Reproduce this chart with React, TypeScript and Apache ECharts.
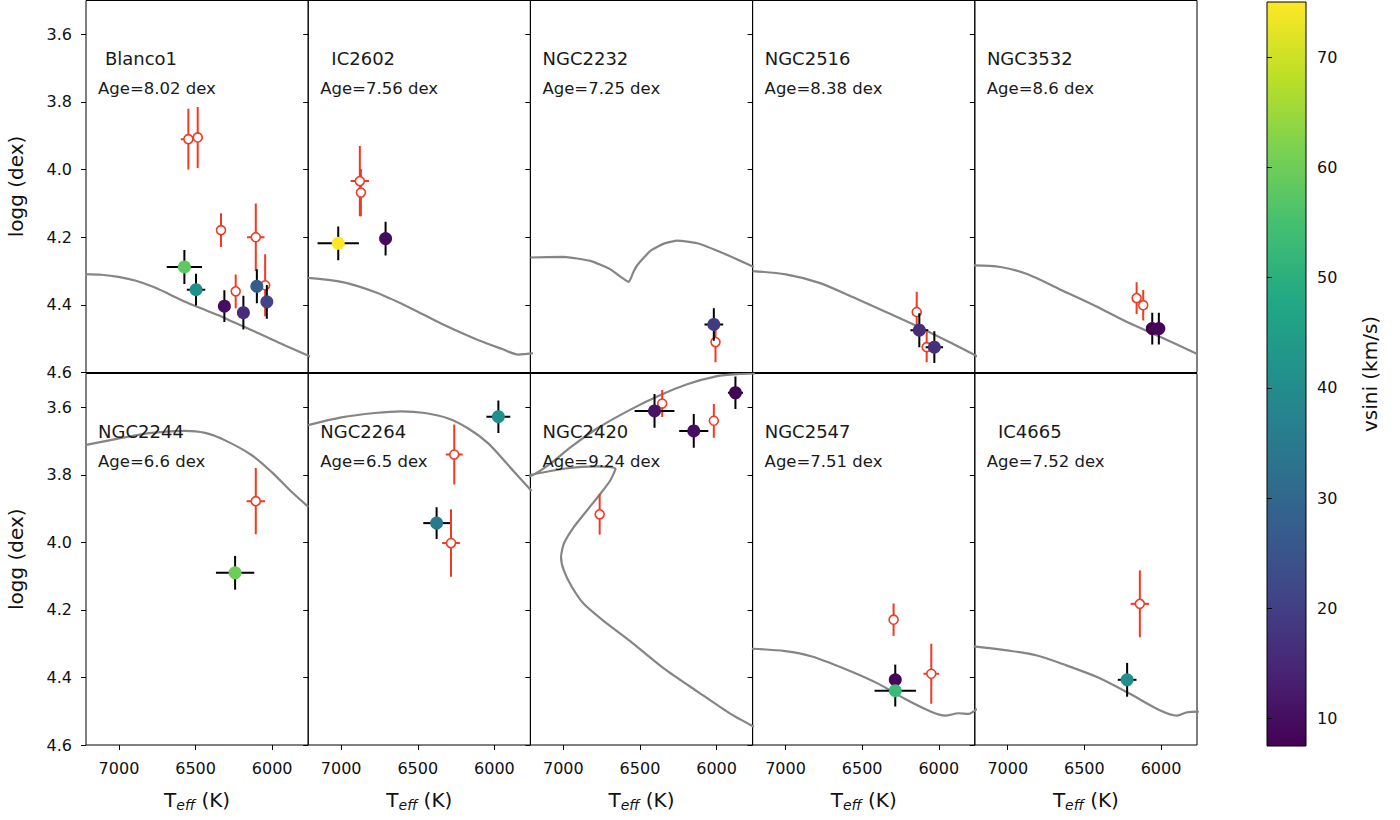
import React, { useEffect, useRef } from "react";
import * as echarts from "echarts";

// Axis limits shared by every panel
const TEFF_LEFT = 7215;
const TEFF_RIGHT = 5765;
const LOGG_TOP = 3.5;
const LOGG_BOTTOM = 4.6;
const TEFF_TICKS = [6000, 6500, 7000];
const LOGG_TICKS = [3.6, 3.8, 4.0, 4.2, 4.4, 4.6];
const VSINI_MIN = 7.5;
const VSINI_MAX = 75;
const VSINI_TICKS = [10, 20, 30, 40, 50, 60, 70];

const clusterNames = ["Blanco1", "IC2602", "NGC2232", "NGC2516", "NGC3532", "NGC2244", "NGC2264", "NGC2420", "NGC2547", "IC4665"];
const clusterAges = ["8.02", "7.56", "7.25", "8.38", "8.6", "6.6", "6.5", "9.24", "7.51", "7.52"];

// Members: [Teff, logg, vsini, Teff error, logg error]
// Outliers: [Teff, logg, Teff error, logg error]
// Isochrones: [Teff, logg]
const blanco1Members = [
  [6573, 4.288, 58, 115, 0.05],
  [6497, 4.355, 41, 60, 0.047],
  [6312, 4.404, 10, 30, 0.047],
  [6188, 4.423, 16, 30, 0.05],
  [6100, 4.345, 27, 30, 0.05],
  [6035, 4.391, 21, 30, 0.05],
];
const blanco1Outliers = [
  [6547, 3.91, 49, 0.09],
  [6486, 3.905, 35, 0.09],
  [6334, 4.179, 20, 0.05],
  [6107, 4.2, 57, 0.1],
  [6238, 4.36, 20, 0.05],
  [6046, 4.342, 20, 0.092],
];
const blanco1Iso = [[7221, 4.309], [7113, 4.311], [7004, 4.317], [6895, 4.328], [6786, 4.345], [6678, 4.367], [6569, 4.391], [6460, 4.411], [6351, 4.431], [6242, 4.453], [6133, 4.475], [6025, 4.497], [5916, 4.52], [5752, 4.553]];

const ic2602Members = [
  [7019, 4.218, 75, 135, 0.05],
  [6710, 4.204, 9.5, 20, 0.05],
];
const ic2602Outliers = [
  [6878, 4.034, 60, 0.104],
  [6871, 4.068, 20, 0.07],
];
const ic2602Iso = [[7215, 4.32], [6998, 4.332], [6780, 4.362], [6562, 4.406], [6345, 4.456], [6127, 4.5], [5953, 4.53], [5844, 4.547], [5790, 4.545], [5746, 4.543]];

const ngc2232Members = [[6018, 4.458, 19, 61, 0.048]];
const ngc2232Outliers = [[6007, 4.51, 15, 0.06]];
const ngc2232Iso = [[7215, 4.26], [6998, 4.258], [6823, 4.27], [6693, 4.295], [6573, 4.332], [6545, 4.305], [6518, 4.283], [6431, 4.24], [6344, 4.219], [6257, 4.21], [6127, 4.218], [5953, 4.248], [5757, 4.288]];

const ngc2516Members = [
  [6127, 4.475, 16, 58, 0.05],
  [6029, 4.525, 16.5, 57, 0.047],
];
const ngc2516Outliers = [
  [6144, 4.421, 15, 0.06],
  [6079, 4.525, 15, 0.045],
];
const ngc2516Iso = [[7215, 4.3], [6998, 4.31], [6780, 4.335], [6562, 4.377], [6345, 4.421], [6127, 4.466], [5909, 4.515], [5746, 4.553]];

const ngc3532Members = [
  [6057, 4.47, 7.5, 20, 0.047],
  [6014, 4.47, 8.5, 20, 0.047],
];
const ngc3532Outliers = [
  [6159, 4.38, 25, 0.047],
  [6116, 4.401, 15, 0.045],
];
const ngc3532Iso = [[7221, 4.283], [7047, 4.288], [6874, 4.309], [6656, 4.355], [6438, 4.401], [6221, 4.451], [6003, 4.495], [5764, 4.545]];

const ngc2244Members = [[6242, 4.09, 60, 125, 0.05]];
const ngc2244Outliers = [[6107, 3.878, 60, 0.098]];
const ngc2244Iso = [[7221, 3.712], [7004, 3.693], [6786, 3.676], [6569, 3.67], [6438, 3.676], [6307, 3.698], [6133, 3.742], [6003, 3.792], [5872, 3.851], [5764, 3.895]];

const ngc2264Members = [
  [5974, 3.628, 41, 78, 0.048],
  [6377, 3.943, 34.5, 87, 0.047],
];
const ngc2264Outliers = [
  [6262, 3.74, 55, 0.089],
  [6283, 4.002, 58, 0.1],
];
const ngc2264Iso = [[7215, 3.653], [6998, 3.63], [6780, 3.617], [6606, 3.612], [6453, 3.617], [6301, 3.633], [6170, 3.663], [6040, 3.707], [5909, 3.772], [5757, 3.848]];

const ngc2420Members = [
  [6405, 3.611, 11, 130, 0.05],
  [6149, 3.67, 10, 95, 0.05],
  [5877, 3.557, 8, 49, 0.048],
];
const ngc2420Outliers = [
  [6355, 3.589, 15, 0.04],
  [6018, 3.64, 15, 0.05],
  [6763, 3.917, 15, 0.06],
];
const ngc2420Iso = [
  [5757, 4.546], [5909, 4.508], [6127, 4.441], [6345, 4.373], [6562, 4.293], [6736, 4.233], [6867, 4.182],
  [6943, 4.133], [6997, 4.083], [7015, 4.044], [6997, 4.004], [6932, 3.955], [6845, 3.905], [6758, 3.856],
  [6693, 3.816], [6660, 3.782], [6780, 3.775], [6997, 3.782], [7215, 3.8], [7346, 3.808],
  [7215, 3.804], [7084, 3.767], [6954, 3.719], [6780, 3.663], [6562, 3.607], [6366, 3.564], [6192, 3.532],
  [5996, 3.508], [5866, 3.502], [5746, 3.5],
];

const ngc2547Members = [
  [6284, 4.407, 8.5, 20, 0.045],
  [6284, 4.439, 53, 135, 0.047],
];
const ngc2547Outliers = [
  [6295, 4.229, 15, 0.048],
  [6049, 4.389, 51, 0.089],
];
const ngc2547Iso = [[7220, 4.315], [7002, 4.322], [6828, 4.338], [6611, 4.375], [6393, 4.419], [6219, 4.464], [6067, 4.498], [5958, 4.513], [5871, 4.506], [5806, 4.508], [5751, 4.493]];

const ic4665Members = [[6221, 4.407, 41, 61, 0.05]];
const ic4665Outliers = [[6138, 4.182, 60, 0.099]];
const ic4665Iso = [[7222, 4.308], [7004, 4.32], [6809, 4.335], [6613, 4.365], [6417, 4.399], [6221, 4.444], [6004, 4.498], [5895, 4.513], [5829, 4.503], [5753, 4.501]];

const panels = [
  { members: blanco1Members, outliers: blanco1Outliers, iso: blanco1Iso, smooth: 0.3 },
  { members: ic2602Members, outliers: ic2602Outliers, iso: ic2602Iso, smooth: 0.3 },
  { members: ngc2232Members, outliers: ngc2232Outliers, iso: ngc2232Iso, smooth: 0.15 },
  { members: ngc2516Members, outliers: ngc2516Outliers, iso: ngc2516Iso, smooth: 0.3 },
  { members: ngc3532Members, outliers: ngc3532Outliers, iso: ngc3532Iso, smooth: 0.3 },
  { members: ngc2244Members, outliers: ngc2244Outliers, iso: ngc2244Iso, smooth: 0.3 },
  { members: ngc2264Members, outliers: ngc2264Outliers, iso: ngc2264Iso, smooth: 0.3 },
  { members: ngc2420Members, outliers: ngc2420Outliers, iso: ngc2420Iso, smooth: 0.2 },
  { members: ngc2547Members, outliers: ngc2547Outliers, iso: ngc2547Iso, smooth: 0.3 },
  { members: ic4665Members, outliers: ic4665Outliers, iso: ic4665Iso, smooth: 0.3 },
];

const VIRIDIS = ["#440154", "#482475", "#414487", "#355f8d", "#2a788e", "#21918c", "#22a884", "#44bf70", "#7ad151", "#bddf26", "#fde725"];

const FONT = "DejaVu Sans";
const RED = "#ee3b24";
const INK = "#111111";

// Layout of the 2 x 5 panel grid and the colour bar
const COL_LEFT = [86, 308.2, 530.4, 752.6, 974.8];
const COL_WIDTH = 222.2;
const ROW_TOP = [0.5, 373.5];
const ROW_HEIGHT = [372, 371.5];
const CBAR = { left: 1267, top: 2, width: 39, height: 744 };

function errorBars(color: string) {
  return (_params: any, api: any) => {
    const x = api.value(0);
    const y = api.value(1);
    const xe = api.value(2);
    const ye = api.value(3);
    const c = api.coord([x, y]);
    const l = api.coord([x + xe, y]);
    const r = api.coord([x - xe, y]);
    const t = api.coord([x, y - ye]);
    const b = api.coord([x, y + ye]);
    const style = { stroke: color, lineWidth: 2 };
    return {
      type: "group",
      children: [
        { type: "line", shape: { x1: l[0], y1: c[1], x2: r[0], y2: c[1] }, style },
        { type: "line", shape: { x1: c[0], y1: t[1], x2: c[0], y2: b[1] }, style },
      ],
    };
  };
}

function buildOption() {
  const grid: any[] = [];
  const xAxis: any[] = [];
  const yAxis: any[] = [];
  const series: any[] = [];
  const graphic: any[] = [];
  const memberSeries: number[] = [];

  panels.forEach((p, i) => {
    const row = i < 5 ? 0 : 1;
    const col = i % 5;
    grid.push({
      left: COL_LEFT[col],
      top: ROW_TOP[row],
      width: COL_WIDTH,
      height: ROW_HEIGHT[row],
      show: true,
      borderColor: "#000",
      borderWidth: 1,
      backgroundColor: "transparent",
      containLabel: false,
    });
    xAxis.push({
      gridIndex: i,
      type: "value",
      min: TEFF_RIGHT,
      max: TEFF_LEFT,
      inverse: true,
      axisLine: { show: false },
      splitLine: { show: false },
      axisTick: {
        show: row === 1,
        inside: false,
        length: 5,
        customValues: TEFF_TICKS,
        lineStyle: { color: "#000", width: 1 },
      },
      axisLabel: {
        show: row === 1,
        customValues: TEFF_TICKS,
        formatter: (v: number) => String(v),
        fontFamily: FONT,
        fontSize: 16,
        color: INK,
        margin: 15,
      },
      name: row === 1 ? "{t|T}{s|eff}{t| (K)}" : "",
      nameLocation: "middle",
      nameGap: 45,
      nameTextStyle: {
        rich: {
          t: { fontFamily: FONT, fontSize: 20, color: INK, lineHeight: 22, verticalAlign: "top" },
          s: { fontFamily: FONT, fontSize: 14, fontStyle: "italic", color: INK, lineHeight: 14, verticalAlign: "bottom", padding: [11, 0, 0, 0] },
        },
      },
    });
    yAxis.push({
      gridIndex: i,
      type: "value",
      min: LOGG_TOP,
      max: LOGG_BOTTOM,
      inverse: true,
      axisLine: { show: false },
      splitLine: { show: false },
      axisTick: {
        show: true,
        inside: false,
        length: 5,
        customValues: LOGG_TICKS,
        lineStyle: { color: "#000", width: 1 },
      },
      axisLabel: {
        show: col === 0,
        customValues: LOGG_TICKS,
        formatter: (v: number) => v.toFixed(1),
        fontFamily: FONT,
        fontSize: 16,
        color: INK,
        margin: 14,
      },
      name: col === 0 ? "logg (dex)" : "",
      nameLocation: "middle",
      nameRotate: 90,
      nameGap: 60,
      nameTextStyle: { fontFamily: FONT, fontSize: 20, color: INK },
    });

    series.push({
      type: "line",
      xAxisIndex: i,
      yAxisIndex: i,
      data: p.iso,
      showSymbol: false,
      symbol: "none",
      smooth: p.smooth,
      clip: true,
      silent: true,
      lineStyle: { color: "#858585", width: 2.2 },
      z: 1,
    });
    series.push({
      type: "custom",
      xAxisIndex: i,
      yAxisIndex: i,
      renderItem: errorBars(RED),
      data: p.outliers.map((d) => [d[0], d[1], d[2], d[3]]),
      encode: { x: 0, y: 1 },
      clip: true,
      silent: true,
      z: 2,
    });
    series.push({
      type: "scatter",
      xAxisIndex: i,
      yAxisIndex: i,
      data: p.outliers.map((d) => [d[0], d[1]]),
      symbol: "circle",
      symbolSize: 9,
      itemStyle: { color: "#ffffff", borderColor: RED, borderWidth: 1.6, opacity: 1 },
      silent: true,
      z: 3,
    });
    series.push({
      type: "custom",
      xAxisIndex: i,
      yAxisIndex: i,
      renderItem: errorBars("#000000"),
      data: p.members.map((d) => [d[0], d[1], d[3], d[4]]),
      encode: { x: 0, y: 1 },
      clip: true,
      silent: true,
      z: 4,
    });
    memberSeries.push(series.length);
    series.push({
      type: "scatter",
      xAxisIndex: i,
      yAxisIndex: i,
      data: p.members.map((d) => [d[0], d[1], d[2]]),
      symbol: "circle",
      symbolSize: 13,
      itemStyle: { opacity: 1 },
      silent: true,
      z: 5,
    });

    graphic.push({
      type: "text",
      x: COL_LEFT[col] + 55,
      y: ROW_TOP[row] + 58,
      style: { text: clusterNames[i], fontFamily: FONT, fontSize: 18, fill: "#1a1a1a", align: "center", verticalAlign: "middle" },
      z: 10,
    });
    graphic.push({
      type: "text",
      x: COL_LEFT[col] + 12,
      y: ROW_TOP[row] + 87.5,
      style: { text: "Age=" + clusterAges[i] + " dex", fontFamily: FONT, fontSize: 16.5, fill: "#1a1a1a", align: "left", verticalAlign: "middle" },
      z: 10,
    });
  });

  // Colour bar axis
  grid.push({ left: CBAR.left, top: CBAR.top, width: CBAR.width, height: CBAR.height, show: false });
  xAxis.push({ gridIndex: 10, type: "value", show: false, min: 0, max: 1 });
  yAxis.push({
    gridIndex: 10,
    type: "value",
    min: VSINI_MIN,
    max: VSINI_MAX,
    position: "right",
    axisLine: { show: false },
    splitLine: { show: false },
    axisTick: { show: true, inside: false, length: 5, customValues: VSINI_TICKS, lineStyle: { color: "#000", width: 1 } },
    axisLabel: { show: true, customValues: VSINI_TICKS, fontFamily: FONT, fontSize: 16, color: INK, margin: 11 },
    name: "vsini (km/s)",
    nameLocation: "middle",
    nameRotate: 90,
    nameGap: 54,
    nameTextStyle: { fontFamily: FONT, fontSize: 20, color: INK },
  });
  series.push({ type: "scatter", xAxisIndex: 10, yAxisIndex: 10, data: [], silent: true });

  graphic.push({
    type: "rect",
    shape: { x: CBAR.left, y: CBAR.top, width: CBAR.width, height: CBAR.height },
    style: {
      fill: {
        type: "linear",
        x: 0,
        y: 1,
        x2: 0,
        y2: 0,
        colorStops: VIRIDIS.map((c, k) => ({ offset: k / (VIRIDIS.length - 1), color: c })),
      },
      stroke: "#000",
      lineWidth: 1,
    },
    z: 0,
  });

  return {
    animation: false,
    backgroundColor: "#ffffff",
    grid,
    xAxis,
    yAxis,
    series,
    graphic,
    visualMap: {
      type: "continuous",
      show: false,
      min: VSINI_MIN,
      max: VSINI_MAX,
      dimension: 2,
      seriesIndex: memberSeries,
      inRange: { color: VIRIDIS },
    },
  };
}

export default function App() {
  const ref = useRef<HTMLDivElement>(null);
  useEffect(() => {
    if (!ref.current) return;
    const chart = echarts.init(ref.current, undefined, { renderer: "svg" });
    chart.setOption(buildOption() as any);
    return () => chart.dispose();
  }, []);
  return (
    <div
      ref={ref}
      style={{ position: "fixed", left: 0, top: 0, width: 1400, height: 820, background: "#ffffff" }}
    />
  );
}
